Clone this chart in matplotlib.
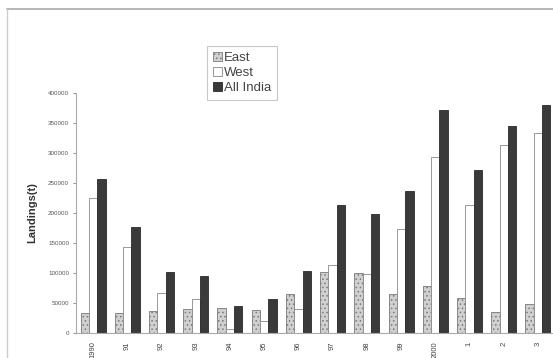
import matplotlib
matplotlib.use("Agg")
import matplotlib.pyplot as plt
import numpy as np

# fish landings by year, tonnes
years = ["1990", "91", "92", "93", "94", "95", "96", "97", "98", "99", "2000", "1", "2", "3"]
east = [33800, 33800, 36600, 39500, 42000, 38300, 64500, 101000, 99400, 65500, 78800, 57800, 35500, 48300]
west = [224000, 143800, 67000, 56600, 6000, 20500, 40500, 113000, 98000, 173800, 292700, 212700, 312700, 333700]
all_india = [256000, 177000, 102000, 95000, 45000, 56600, 103000, 213000, 197700, 237000, 370400, 271000, 345400, 380000]

plt.rcParams["font.family"] = ["Liberation Sans", "DejaVu Sans"]
plt.rcParams["hatch.color"] = "#a8a8a8"
plt.rcParams["hatch.linewidth"] = 0.6

fig = plt.figure(figsize=(5.53, 3.58), dpi=100)
# outer chart frame lines (top and left)
fig.add_artist(plt.Line2D([7/553, 1], [1 - 9/358, 1 - 9/358], color="#aaaaaa", lw=1.2))
fig.add_artist(plt.Line2D([7/553, 7/553], [0, 1 - 9/358], color="#cccccc", lw=1.0))

ax = fig.add_axes([76/553, 25/358, 479/553, 240.3/358])

x = np.arange(len(years))
w = 0.243
ax.bar(x - w, east, w, color="#d0d0d0", edgecolor="#7a7a7a", lw=0.6, hatch="....", label="East")
ax.bar(x, west, w, color="white", edgecolor="#888888", lw=0.6, label="West")
ax.bar(x + w, all_india, w, color="#3a3a3a", edgecolor="#2a2a2a", lw=0.6, label="All India")

ax.set_xlim(-0.5, len(years) - 0.5)
ax.set_ylim(0, 400000)
ax.set_yticks(np.arange(0, 400001, 50000))
ax.set_yticklabels([str(v) for v in range(0, 400001, 50000)], fontsize=4.5, color="#555555")
ax.set_xticks(x)
ax.set_xticklabels(years, rotation=90, fontsize=5.5, color="#444444")
ax.tick_params(axis="y", length=2, color="#999999", pad=3)
ax.tick_params(axis="x", length=0, pad=6)
for s in ["top", "right"]:
    ax.spines[s].set_visible(False)
ax.spines["left"].set_color("#aaaaaa")
ax.spines["bottom"].set_color("#aaaaaa")
ax.spines["left"].set_linewidth(0.8)
ax.spines["bottom"].set_linewidth(0.8)

ax.set_ylabel("Landings(t)", fontsize=8, fontweight="bold", color="#333333", labelpad=8)

leg = fig.legend(loc="upper left", bbox_to_anchor=(207/553, 1 - 46/358), borderaxespad=0,
                 fontsize=9.5, frameon=True, fancybox=False, handlelength=0.7, handleheight=0.7,
                 handletextpad=0.15, borderpad=0.45, labelspacing=0.2)
leg.get_frame().set_edgecolor("#bbbbbb")
leg.get_frame().set_linewidth(0.8)
for t in leg.get_texts():
    t.set_color("#444444")

fig.savefig("out.png", dpi=100)
